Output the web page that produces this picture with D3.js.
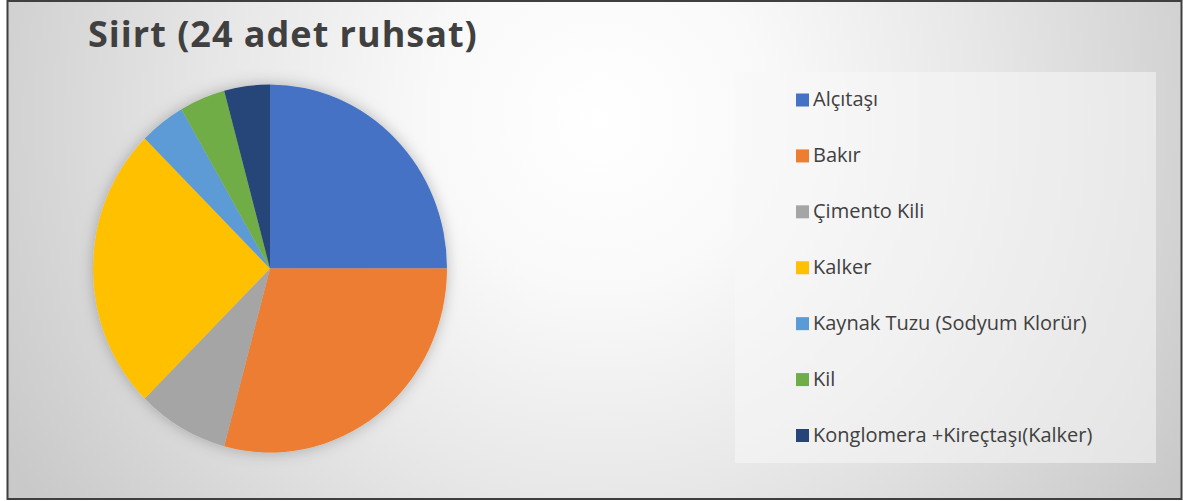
<!DOCTYPE html>
<html>
<head>
<meta charset="utf-8">
<script src="https://cdn.jsdelivr.net/npm/d3@7"></script>
<style>
  html, body { margin: 0; padding: 0; background: #ffffff; }
  svg { display: block; }
</style>
</head>
<body>
<svg id="chart" width="1183" height="501"></svg>
<script>
// Ruhsat counts by mineral, Siirt province
const titleText = "Siirt (24 adet ruhsat)";
const categories = [
  "Alçıtaşı",
  "Bakır",
  "Çimento Kili",
  "Kalker",
  "Kaynak Tuzu (Sodyum Klorür)",
  "Kil",
  "Konglomera +Kireçtaşı(Kalker)"
];
const values = [6, 7, 2, 6, 1, 1, 1];
const colors = ["#4472C4", "#ED7D31", "#A5A5A5", "#FFC000", "#5B9BD5", "#70AD47", "#264478"];

const svg = d3.select("#chart");
const W = 1183, H = 501;
const defs = svg.append("defs");

// chart area background: soft radial grey gradient
const bg = defs.append("radialGradient")
  .attr("id", "bgGrad")
  .attr("gradientUnits", "userSpaceOnUse")
  .attr("cx", 600).attr("cy", 120).attr("r", 680);
[[0, "#ffffff"], [0.25, "#f9f9f9"], [0.55, "#e8e8e8"], [1, "#c9c9c9"]].forEach(([o, c]) =>
  bg.append("stop").attr("offset", o).attr("stop-color", c));

const shadow = defs.append("filter").attr("id", "pieShadow")
  .attr("x", "-20%").attr("y", "-20%").attr("width", "140%").attr("height", "140%");
shadow.append("feDropShadow")
  .attr("dx", 0).attr("dy", 0).attr("stdDeviation", 7)
  .attr("flood-color", "#000").attr("flood-opacity", 0.25);

// frame
svg.append("rect")
  .attr("x", 7.5).attr("y", 1).attr("width", W - 9).attr("height", H - 3)
  .attr("fill", "url(#bgGrad)")
  .attr("stroke", "#3f3f3f").attr("stroke-width", 2);

// title
svg.append("text")
  .attr("x", 88).attr("y", 47)
  .attr("font-family", "'Open Sans', Lato, sans-serif")
  .attr("font-weight", 700)
  .attr("font-size", 36)
  .attr("letter-spacing", 1)
  .attr("fill", "#404040")
  .text(titleText);

// pie
const cx = 270, cy = 268.5, rx = 177, ry = 184;
const pie = d3.pie().sort(null).value(d => d)(values);
const arc = d3.arc().innerRadius(0).outerRadius(rx);
const color = d3.scaleOrdinal().domain(categories).range(colors);

const pieG = svg.append("g")
  .attr("transform", `translate(${cx},${cy}) scale(1,${ry / rx})`)
  .attr("filter", "url(#pieShadow)");
pieG.selectAll("path")
  .data(pie)
  .join("path")
  .attr("d", arc)
  .attr("fill", (d, i) => color(categories[i]));

// legend
const lgX = 735, lgY = 72, lgW = 421, lgH = 391;
svg.append("rect")
  .attr("x", lgX).attr("y", lgY).attr("width", lgW).attr("height", lgH)
  .attr("fill", "#f7f7f7").attr("fill-opacity", 0.55);

const rowY = d3.scalePoint().domain(categories).range([100, 435.5]);
const items = svg.append("g").selectAll("g")
  .data(categories)
  .join("g")
  .attr("transform", d => `translate(796,${rowY(d)})`);
items.append("rect")
  .attr("x", 0).attr("y", -6.5).attr("width", 13).attr("height", 13)
  .attr("fill", d => color(d));
items.append("text")
  .attr("x", 17).attr("y", 0).attr("dy", "0.32em")
  .attr("font-family", "'Open Sans', Lato, sans-serif")
  .attr("font-size", 20)
  .attr("fill", "#404040")
  .text(d => d);
</script>
</body>
</html>
